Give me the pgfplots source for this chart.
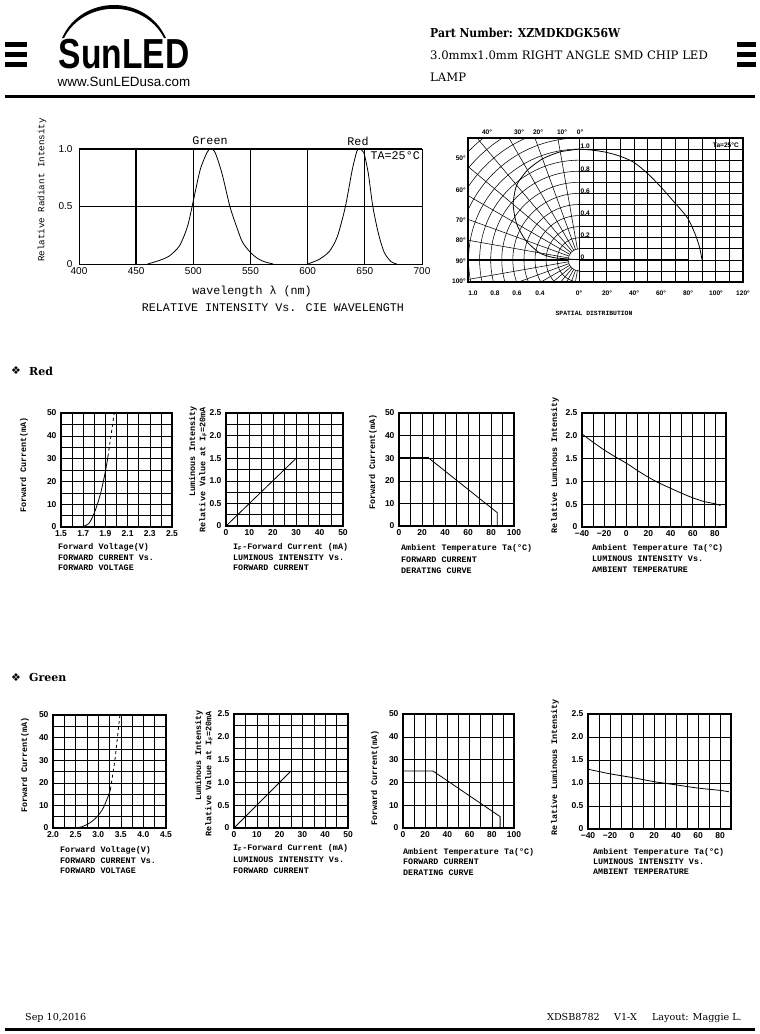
\documentclass[border=0pt]{standalone}
\usepackage{fontspec}
\usepackage{graphicx}
\usepackage{pgfplots}
\pgfplotsset{compat=1.18}
\setmainfont{DejaVu Serif}
\newfontfamily\mono{Liberation Mono}
\newfontfamily\arial{Liberation Sans}
\newfontfamily\djs{DejaVu Sans}

\newcommand\lab{\mono\bfseries\fontsize{8.4}{9}\selectfont}
\newcommand\tickf{\arial\bfseries\fontsize{8.5}{9}\selectfont}
\newcommand\specf{\mono\fontsize{11.7}{12}\selectfont}
\newcommand\polf{\arial\bfseries\fontsize{6.6}{7}\selectfont}

\pgfplotsset{
  sm/.style={scale only axis, anchor=south west,
    axis line style={line width=1.1pt},
    major tick length=0pt, minor tick length=0pt,
    grid=both,
    major grid style={black, line width=0.55pt},
    minor grid style={black, line width=0.55pt},
    tick label style={font=\tickf},
    yticklabel style={xshift=-1pt},
    /pgf/number format/assume math mode=true,
    clip=false},
  crv/.style={black, line width=0.8pt, no marks},
}

\begin{document}
\begin{tikzpicture}
\useasboundingbox (0,0) rectangle (760pt,-1034pt);
\fill[white] (0,0) rectangle (760pt,-1034pt);

% ---------------- spectrum ----------------
\begin{axis}[scale only axis, anchor=south west, at={(79pt,-264pt)}, width=343pt, height=115pt,
  xmin=400, xmax=700, ymin=0, ymax=1,
  xtick={400,450,500,550,600,650,700}, xticklabels={400,450,500,550,600,650,700},
  ytick={0,0.5,1}, yticklabels={0,0.5,1.0},
  grid=major, major grid style={black, line width=0.7pt},
  major tick length=0pt, axis line style={line width=1pt},
  tick label style={font=\arial\fontsize{10}{10}\selectfont},
  yticklabel style={xshift=-3pt},
  /pgf/number format/assume math mode=true, clip=false]
\addplot[crv, smooth, tension=0.45] coordinates {(460,0)(470,0.03)(479,0.07)(488,0.16)(495,0.33)(500,0.55)(506,0.82)(512,0.97)(515,1.0)(519,0.97)(525,0.79)(532,0.5)(538,0.32)(543,0.19)(550,0.1)(556,0.05)(562,0.02)(570,0)};
\addplot[crv, smooth, tension=0.45] coordinates {(600,0)(610,0.04)(619,0.11)(626,0.24)(633,0.5)(639,0.82)(643,0.98)(645,1.0)(649,0.97)(653,0.79)(657,0.5)(662,0.26)(667,0.1)(673,0.02)(678,0)};
\draw[line width=1.8pt] (axis cs:450,0) -- (axis cs:450,1);
\draw[line width=2pt] (axis cs:400,1) -- (axis cs:700,1);
\end{axis}

% ---------------- spatial distribution ----------------
\begin{axis}[scale only axis, anchor=south west, at={(579.3pt,-282pt)}, width=163.7pt, height=144pt,
  xmin=0, xmax=120, ymin=-0.2, ymax=1.1,
  xtick={0,10,20,30,40,50,60,70,80,90,100,110,120}, xticklabels={},
  ytick={-0.2,-0.1,0,0.1,0.2,0.3,0.4,0.5,0.6,0.7,0.8,0.9,1.0,1.1}, yticklabels={},
  grid=major, major grid style={black, line width=0.55pt},
  major tick length=0pt, axis line style={line width=1pt}, clip=false]
\addplot[crv, smooth, tension=0.5] coordinates {(0,1.0)(10,0.99)(20,0.97)(30,0.935)(40,0.88)(50,0.78)(60,0.655)(70,0.515)(75,0.445)(80,0.365)(85,0.23)(88,0.12)(90,0)};
\addplot[black, line width=1pt] coordinates {(0,0)(80,0)};
\end{axis}
\begin{axis}[scale only axis, anchor=south west, at={(468pt,-282pt)}, width=111.3pt, height=144pt,
  xmin=-1.005, xmax=0, ymin=-0.2, ymax=1.1, hide axis, clip=false]
\addplot[crv, smooth, tension=0.4] coordinates {(0,1.0)(-0.172,0.975)(-0.332,0.912)(-0.468,0.810)(-0.566,0.674)(-0.597,0.501)(-0.567,0.328)(-0.484,0.176)(-0.359,0.063)(-0.229,0.020)(0,0)};
\end{axis}

% ---------------- Red row ----------------
\begin{axis}[sm, at={(61pt,-527pt)}, width=111pt, height=114pt,
  xmin=1.5, xmax=2.5, ymin=0, ymax=50,
  xtick={1.5,1.7,1.9,2.1,2.3,2.5}, xticklabels={1.5,1.7,1.9,2.1,2.3,2.5},
  minor xtick={1.6,1.8,2.0,2.2,2.4},
  ytick={0,10,20,30,40,50}, yticklabels={0,10,20,30,40,50}, minor ytick={5,15,25,35,45}]
\addplot[crv, smooth] coordinates {(1.57,0)(1.65,0.1)(1.70,0.3)(1.75,1.5)(1.79,5)(1.83,10.3)(1.86,15.4)(1.884,20.6)(1.905,25.7)(1.923,30.9)};
\addplot[crv, dashed] coordinates {(1.923,30.9)(1.95,40)(1.98,50)};
\end{axis}

\begin{axis}[sm, at={(226pt,-526pt)}, width=117pt, height=113pt,
  xmin=0, xmax=50, ymin=0, ymax=2.5,
  xtick={0,10,20,30,40,50}, xticklabels={0,10,20,30,40,50}, minor xtick={5,15,25,35,45},
  ytick={0,0.5,1,1.5,2,2.5}, yticklabels={0,0.5,1.0,1.5,2.0,2.5}, minor ytick={0.25,0.75,1.25,1.75,2.25}]
\addplot[crv] coordinates {(0,0)(30,1.5)};
\end{axis}

\begin{axis}[sm, at={(399pt,-526pt)}, width=115pt, height=113pt,
  xmin=0, xmax=100, ymin=0, ymax=50,
  xtick={0,20,40,60,80,100}, xticklabels={0,20,40,60,80,100}, minor xtick={10,30,50,70,90},
  ytick={0,10,20,30,40,50}, yticklabels={0,10,20,30,40,50}]
\addplot[black, line width=1.6pt] coordinates {(0,30)(26,30)};
\addplot[crv] coordinates {(26,30)(85.5,5.9)(85.5,0)};
\end{axis}

\begin{axis}[sm, at={(582pt,-527pt)}, width=144pt, height=114pt,
  xmin=-40, xmax=90, ymin=0, ymax=2.5,
  xtick={-40,-20,0,20,40,60,80}, xticklabels={−40,−20,0,20,40,60,80}, minor xtick={-30,-10,10,30,50,70,90},
  ytick={0,0.5,1,1.5,2,2.5}, yticklabels={0,0.5,1.0,1.5,2.0,2.5}]
\addplot[crv, smooth] coordinates {(-40,2.04)(-30,1.86)(-20,1.69)(-10,1.54)(0,1.40)(10,1.24)(20,1.09)(30,0.96)(40,0.85)(50,0.74)(60,0.64)(70,0.56)(80,0.51)(85,0.47)};
\end{axis}

% ---------------- Green row ----------------
\begin{axis}[sm, at={(53pt,-828pt)}, width=113pt, height=113pt,
  xmin=2, xmax=4.5, ymin=0, ymax=50,
  xtick={2,2.5,3,3.5,4,4.5}, xticklabels={2.0,2.5,3.0,3.5,4.0,4.5},
  minor xtick={2.25,2.75,3.25,3.75,4.25},
  ytick={0,10,20,30,40,50}, yticklabels={0,10,20,30,40,50}, minor ytick={5,15,25,35,45}]
\addplot[crv, smooth] coordinates {(2.355,0)(2.5,0.1)(2.63,0.5)(2.81,2.2)(2.98,5.1)(3.11,8.8)(3.22,14)(3.27,17)};
\addplot[crv, dashed] coordinates {(3.27,17)(3.37,30)(3.42,39)(3.48,50)};
\end{axis}

\begin{axis}[sm, at={(234pt,-828pt)}, width=114pt, height=114pt,
  xmin=0, xmax=50, ymin=0, ymax=2.5,
  xtick={0,10,20,30,40,50}, xticklabels={0,10,20,30,40,50}, minor xtick={5,15,25,35,45},
  ytick={0,0.5,1,1.5,2,2.5}, yticklabels={0,0.5,1.0,1.5,2.0,2.5}, minor ytick={0.25,0.75,1.25,1.75,2.25}]
\addplot[crv] coordinates {(0,0)(25,1.25)};
\end{axis}

\begin{axis}[sm, at={(403pt,-828pt)}, width=111pt, height=114pt,
  xmin=0, xmax=100, ymin=0, ymax=50,
  xtick={0,20,40,60,80,100}, xticklabels={0,20,40,60,80,100}, minor xtick={10,30,50,70,90},
  ytick={0,10,20,30,40,50}, yticklabels={0,10,20,30,40,50}]
\addplot[crv] coordinates {(0,25)(27,25)(87.5,5)(87.5,0)};
\end{axis}

\begin{axis}[sm, at={(588pt,-829pt)}, width=143pt, height=115pt,
  xmin=-40, xmax=90, ymin=0, ymax=2.5,
  xtick={-40,-20,0,20,40,60,80}, xticklabels={−40,−20,0,20,40,60,80}, minor xtick={-30,-10,10,30,50,70,90},
  ytick={0,0.5,1,1.5,2,2.5}, yticklabels={0,0.5,1.0,1.5,2.0,2.5}]
\addplot[crv, smooth] coordinates {(-40,1.30)(-20,1.20)(0,1.12)(20,1.03)(40,0.96)(60,0.89)(80,0.84)(88,0.81)};
\end{axis}

\begin{scope}[x=1pt,y=-1pt]
% header
\foreach \yy in {42,52,62} {\fill[black] (5,\yy) rectangle (27,\yy+5); \fill[black] (737,\yy) rectangle (756,\yy+5);}
\fill[black] (62,38) .. controls (82,-6) and (146,-6) .. (166,38) -- (164,38) .. controls (144,-1) and (84,-1) .. (64,38) -- cycle;
\node[anchor=base, inner sep=0, font=\arial\bfseries\fontsize{42}{42}\selectfont] at (124,68) {\scalebox{0.8}[1]{SunLED}};
\node[anchor=base, inner sep=0, font=\arial\fontsize{13.4}{14}\selectfont] at (124,86) {www.SunLEDusa.com};
\node[anchor=base west, inner sep=0, font=\bfseries\fontsize{12.3}{13}\selectfont] at (430,37) {\scalebox{0.88}[1]{Part Number: XZMDKDGK56W}};
\node[anchor=base west, inner sep=0, font=\fontsize{11.66}{12}\selectfont] at (430,59.5) {3.0mmx1.0mm RIGHT ANGLE SMD CHIP LED};
\node[anchor=base west, inner sep=0, font=\fontsize{11.66}{12}\selectfont] at (430,81) {LAMP};
\draw[line width=3pt] (5,96) -- (755,96);
% footer
\node[anchor=base west, inner sep=0, font=\fontsize{9.6}{10}\selectfont] at (25,1020) {Sep 10,2016};
\node[anchor=base west, inner sep=0, font=\fontsize{9.6}{10}\selectfont] at (547,1020) {XDSB8782};
\node[anchor=base west, inner sep=0, font=\fontsize{9.6}{10}\selectfont] at (614,1020) {V1-X};
\node[anchor=base east, inner sep=0, font=\fontsize{9.6}{10}\selectfont] at (742,1020) {Layout: Maggie L.};
\draw[line width=3pt] (5,1029) -- (755,1029);

% spectrum texts
\node[font=\specf, inner sep=0] at (210,141) {Green};
\node[font=\specf, inner sep=0] at (358,141) {Red};
\node[font=\specf, inner sep=0, anchor=east] at (420,156) {TA=25°C};
\node[font=\specf, inner sep=0] at (252,291) {wavelength λ (nm)};
\node[font=\specf, inner sep=0] at (273,308) {RELATIVE INTENSITY Vs. CIE WAVELENGTH};
\node[font=\mono\fontsize{9.2}{10}\selectfont, inner sep=0, rotate=90] at (42,190) {Relative Radiant Intensity};

% polar grid
\begin{scope}
\clip (468,138) rectangle (579.3,282);
\foreach \r in {1,...,16} {\draw[line width=0.55pt] (579.3,259.85) circle[radius=\r*11.077pt];}
\foreach \a in {10,20,...,180} {\draw[line width=0.55pt] (579.3,259.85) ++(90+\a:11.077pt) -- ++(90+\a:300pt);}
\end{scope}
\draw[line width=1pt] (468,259.85) -- (579.3,259.85);
\draw[line width=1.1pt] (468,138) rectangle (743,282);
\draw[line width=0.9pt] (579.3,138) -- (579.3,282);
% polar labels
\foreach \t/\x in {40°/487,30°/519,20°/538,10°/562,0°/580} {\node[font=\polf, inner sep=0] at (\x,132) {\t};}
\foreach \t/\yy in {50°/158,60°/190,70°/220,80°/240,90°/261,100°/281} {\node[font=\polf, inner sep=0, anchor=east] at (466,\yy) {\t};}
\foreach \t/\x in {1.0/473,0.8/495,0.6/517,0.4/540,0°/579,20°/607,40°/634,60°/661,80°/688,100°/716,120°/743} {\node[font=\polf, inner sep=0] at (\x,293) {\t};}
\foreach \t/\yy in {1.0/149.6,0.8/171.8,0.6/193.9,0.4/216.1,0.2/238.3,0/260.4} {\node[font=\polf, inner sep=0.5pt, anchor=south west] at (580,\yy) {\t};}
\node[font=\polf, inner sep=0, anchor=east] at (739,145) {Ta=25°C};
\node[font=\mono\bfseries\fontsize{6.4}{7}\selectfont, inner sep=0] at (594,313) {SPATIAL DISTRIBUTION};

% section headings
\node[font=\djs\fontsize{11}{12}\selectfont, inner sep=0] at (16,371) {❖};
\node[font=\bfseries\fontsize{11}{12}\selectfont, inner sep=0, anchor=west] at (29,371) {Red};
\node[font=\djs\fontsize{11}{12}\selectfont, inner sep=0] at (16,677) {❖};
\node[font=\bfseries\fontsize{11}{12}\selectfont, inner sep=0, anchor=west] at (29,677) {Green};

% Red row labels
\node[font=\lab, inner sep=0, rotate=90] at (24,465) {Forward Current(mA)};
\node[font=\lab, inner sep=0, anchor=west] at (58,547) {Forward Voltage(V)};
\node[font=\lab, inner sep=0, anchor=west] at (58,558) {FORWARD CURRENT Vs.};
\node[font=\lab, inner sep=0, anchor=west] at (58,568) {FORWARD VOLTAGE};

\node[font=\lab, inner sep=0, rotate=90, anchor=east] at (193,406) {Luminous Intensity};
\node[font=\lab, inner sep=0, rotate=90, anchor=east] at (203,407) {Relative Value at I\textsubscript{F}=20mA};
\node[font=\lab, inner sep=0, anchor=west] at (233,547) {I\textsubscript{F}-Forward Current (mA)};
\node[font=\lab, inner sep=0, anchor=west] at (233,558) {LUMINOUS INTENSITY Vs.};
\node[font=\lab, inner sep=0, anchor=west] at (233,568) {FORWARD CURRENT};

\node[font=\lab, inner sep=0, rotate=90] at (373,462) {Forward Current(mA)};
\node[font=\lab, inner sep=0, anchor=west] at (401,548) {Ambient Temperature Ta(°C)};
\node[font=\lab, inner sep=0, anchor=west] at (401,560) {FORWARD CURRENT};
\node[font=\lab, inner sep=0, anchor=west] at (401,571) {DERATING CURVE};

\node[font=\lab, inner sep=0, rotate=90] at (555,465) {Relative Luminous Intensity};
\node[font=\lab, inner sep=0, anchor=west] at (592,548) {Ambient Temperature Ta(°C)};
\node[font=\lab, inner sep=0, anchor=west] at (592,559) {LUMINOUS INTENSITY Vs.};
\node[font=\lab, inner sep=0, anchor=west] at (592,570) {AMBIENT TEMPERATURE};

% Green row labels
\node[font=\lab, inner sep=0, rotate=90] at (25,765) {Forward Current(mA)};
\node[font=\lab, inner sep=0, anchor=west] at (60,850) {Forward Voltage(V)};
\node[font=\lab, inner sep=0, anchor=west] at (60,861) {FORWARD CURRENT Vs.};
\node[font=\lab, inner sep=0, anchor=west] at (60,871) {FORWARD VOLTAGE};

\node[font=\lab, inner sep=0, rotate=90, anchor=east] at (199,710) {Luminous Intensity};
\node[font=\lab, inner sep=0, rotate=90, anchor=east] at (209,711) {Relative Value at I\textsubscript{F}=20mA};
\node[font=\lab, inner sep=0, anchor=west] at (233,848) {I\textsubscript{F}-Forward Current (mA)};
\node[font=\lab, inner sep=0, anchor=west] at (233,860) {LUMINOUS INTENSITY Vs.};
\node[font=\lab, inner sep=0, anchor=west] at (233,871) {FORWARD CURRENT};

\node[font=\lab, inner sep=0, rotate=90] at (375,778) {Forward Current(mA)};
\node[font=\lab, inner sep=0, anchor=west] at (403,852) {Ambient Temperature Ta(°C)};
\node[font=\lab, inner sep=0, anchor=west] at (403,862) {FORWARD CURRENT};
\node[font=\lab, inner sep=0, anchor=west] at (403,873) {DERATING CURVE};

\node[font=\lab, inner sep=0, rotate=90] at (555,767) {Relative Luminous Intensity};
\node[font=\lab, inner sep=0, anchor=west] at (593,852) {Ambient Temperature Ta(°C)};
\node[font=\lab, inner sep=0, anchor=west] at (593,862) {LUMINOUS INTENSITY Vs.};
\node[font=\lab, inner sep=0, anchor=west] at (593,872) {AMBIENT TEMPERATURE};
\end{scope}
\end{tikzpicture}
\end{document}
